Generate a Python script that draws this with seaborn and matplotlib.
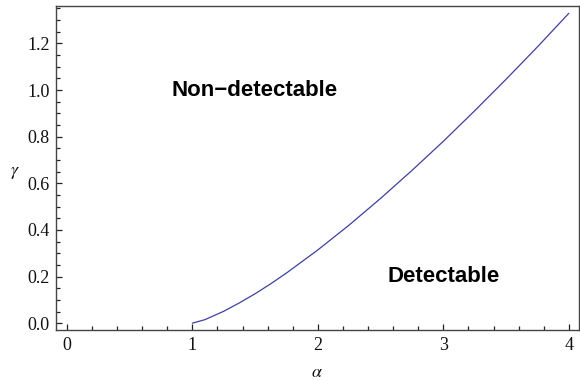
import matplotlib
matplotlib.use("Agg")
import matplotlib.pyplot as plt
import seaborn as sns
import pandas as pd
from matplotlib.ticker import MultipleLocator

# Boundary curve
alpha = [1.0, 1.1, 1.25, 1.375, 1.5, 1.625, 1.75, 2.0, 2.25, 2.5, 2.75,
         3.0, 3.25, 3.5, 3.75, 4.0]
gamma = [0.0, 0.015, 0.051, 0.087, 0.126, 0.169, 0.215, 0.314, 0.421, 0.535, 0.655,
         0.780, 0.911, 1.046, 1.185, 1.329]

xticks = [0, 1, 2, 3, 4]
yticks = [0.0, 0.2, 0.4, 0.6, 0.8, 1.0, 1.2]

sns.set_style("ticks")
plt.rcParams["font.family"] = ["Liberation Serif", "DejaVu Serif"]
plt.rcParams["mathtext.fontset"] = "stix"
plt.rcParams["text.color"] = "black"

data = pd.DataFrame({"alpha": alpha, "gamma": gamma})

fig = plt.figure(figsize=(5.8, 3.81), dpi=100)
ax = fig.add_axes([0.0957, 0.134, 0.9023, 0.850])

sns.lineplot(data=data, x="alpha", y="gamma", ax=ax, color="#3f3f9f", linewidth=0.9)

ax.set_xlim(-0.09, 4.08)
ax.set_ylim(-0.029, 1.36)
ax.set_xticks(xticks)
ax.set_xticklabels([str(t) for t in xticks])
ax.set_yticks(yticks)
ax.set_yticklabels([f"{t:.1f}" for t in yticks])
ax.xaxis.set_minor_locator(MultipleLocator(0.2))
ax.yaxis.set_minor_locator(MultipleLocator(0.05))

for s in ax.spines.values():
    s.set_color("#444444")
    s.set_linewidth(1.0)

ax.tick_params(which="both", direction="in", top=False, right=False,
               color="#222222", width=0.9, labelsize=13, labelcolor="#111111")
ax.tick_params(which="major", length=4.5)
ax.tick_params(which="minor", length=2.8)
ax.tick_params(axis="x", which="major", pad=5)
ax.tick_params(axis="y", which="major", pad=4)

ax.set_xlabel(r"$\alpha$", fontsize=13, labelpad=7, color="#111111")
ax.set_ylabel(r"$\gamma$", fontsize=13, rotation=0, color="#111111", va="center", ha="center")
ax.yaxis.set_label_coords(-0.077, 0.485)

ax.text(1.5, 1.0, "Non\u2212detectable", ha="center", va="center", color="black",
        fontsize=16, fontweight="bold", family=["Liberation Sans", "DejaVu Sans"])
ax.text(3.0, 0.2, "Detectable", ha="center", va="center", color="black",
        fontsize=16, fontweight="bold", family=["Liberation Sans", "DejaVu Sans"])

fig.savefig("out.png", dpi=100)
